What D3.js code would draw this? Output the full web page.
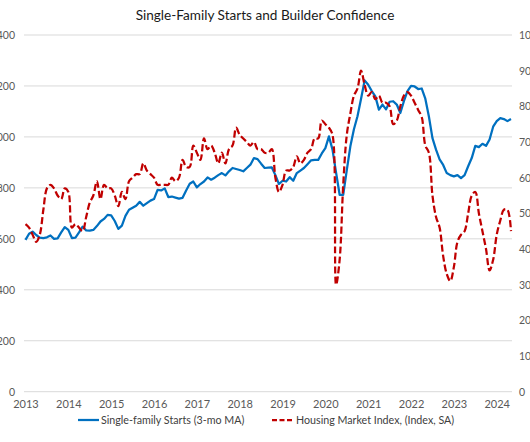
<!DOCTYPE html>
<html>
<head>
<meta charset="utf-8">
<script src="https://cdn.jsdelivr.net/npm/d3@7"></script>
<style>
  html, body { margin: 0; padding: 0; background: #fff; }
  svg { display: block; font-family: Lato, "Open Sans", sans-serif; }
</style>
</head>
<body>
<svg id="chart" width="530" height="442"></svg>
<script>
// ---- Data ----
const yearLabels = ["2013","2014","2015","2016","2017","2018","2019","2020","2021","2022","2023","2024"];
const leftTicks = [0, 200, 400, 600, 800, 1000, 1200, 1400];
const rightTicks = [0, 10, 20, 30, 40, 50, 60, 70, 80, 90, 100];

// Single-family starts, 3-month moving average (thousands, SAAR), Jan 2013 - May 2024
const starts = [
  596,620,628,615,605,603,606,613,600,602,625,646,
  635,603,605,625,648,633,632,635,650,668,678,694,
  692,670,639,652,690,714,722,730,745,730,740,750,
  756,792,790,798,764,766,762,758,761,790,816,825,
  802,815,825,841,832,840,850,858,849,865,878,874,
  870,865,878,891,917,913,895,878,879,880,850,815,
  828,825,842,828,858,868,878,893,908,910,910,935,
  956,1002,950,860,773,773,870,963,1030,1081,1150,1222,
  1205,1180,1159,1107,1127,1108,1138,1140,1127,1094,1140,1180,
  1200,1198,1188,1190,1150,1080,995,950,912,890,858,850,
  845,850,838,850,885,917,965,960,973,965,990,1040,
  1062,1074,1070,1062,1070
];

// NAHB/Wells Fargo Housing Market Index (SA), Jan 2013 - May 2024
const hmi = [
  47,46,44,42,44,51,57,58,57,55,54,57,
  56,46,47,46,45,49,53,55,59,54,58,57,
  57,55,52,56,54,59,60,61,61,64,62,61,
  60,58,58,58,58,60,59,60,65,63,63,69,
  67,65,71,68,69,67,64,67,64,68,69,74,
  72,71,70,69,70,68,68,67,67,68,60,56,
  58,62,62,63,66,64,65,67,68,71,71,76,
  75,74,72,30,37,58,72,78,83,85,90,86,
  83,84,82,83,81,81,80,75,76,80,83,84,
  83,81,79,77,69,67,55,49,46,38,33,31,
  35,42,44,45,50,55,56,50,45,40,34,37,
  44,48,51,51,45
];

const seriesNames = ["Single-family Starts (3-mo MA)", "Housing Market Index, (Index, SA)"];
const title = "Single-Family Starts and Builder Confidence";

// ---- Layout ----
const svg = d3.select("#chart");
const plotLeft = 25.5, plotRight = 511, plotTop = 35, plotBottom = 391.7;

const x = d3.scaleLinear().domain([0, starts.length - 1]).range([plotLeft, plotRight]);
const yL = d3.scaleLinear().domain([0, 1400]).range([plotBottom, plotTop]);
const yR = d3.scaleLinear().domain([0, 100]).range([plotBottom, plotTop]);

const fmt = d3.format(",");

// gridlines
svg.append("g")
  .selectAll("line")
  .data(leftTicks)
  .join("line")
  .attr("x1", 24).attr("x2", 512)
  .attr("y1", d => yL(d)).attr("y2", d => yL(d))
  .attr("stroke", "#d9d9d9").attr("stroke-width", 1);

// left axis labels (the chart image is cropped at its left edge, as in the reference)
const leftAxis = d3.axisLeft(yL).tickValues(leftTicks).tickFormat(fmt).tickSize(0).tickPadding(0);
const gL = svg.append("g").attr("transform", "translate(15,0)").call(leftAxis);
gL.select(".domain").remove();
gL.selectAll("text").attr("fill", "#595959").style("font-size", "10.5px").style("font-family", "Lato, sans-serif");

// right axis labels (cropped at the right edge)
const rightAxis = d3.axisRight(yR).tickValues(rightTicks).tickSize(0).tickPadding(0);
const gR = svg.append("g").attr("transform", "translate(519,0)").call(rightAxis);
gR.select(".domain").remove();
gR.selectAll("text").attr("fill", "#595959").style("font-size", "10.5px").style("font-family", "Lato, sans-serif");

// x axis year labels at January of each year
const xAxis = d3.axisBottom(x)
  .tickValues(yearLabels.map((y, i) => i * 12))
  .tickFormat((d, i) => yearLabels[i])
  .tickSize(0).tickPadding(0);
const gX = svg.append("g").attr("transform", "translate(0,400)").call(xAxis);
gX.select(".domain").remove();
gX.selectAll("text").attr("fill", "#595959").style("font-size", "11px").style("font-family", "Lato, sans-serif");

// lines
const lineStarts = d3.line().x((d, i) => x(i)).y(d => yL(d));
const lineHmi = d3.line().x((d, i) => x(i)).y(d => yR(d)).curve(d3.curveCatmullRom.alpha(0.5));

svg.append("path")
  .datum(starts)
  .attr("d", lineStarts)
  .attr("fill", "none")
  .attr("stroke", "#0070C0")
  .attr("stroke-width", 2.25)
  .attr("stroke-linejoin", "round");

svg.append("path")
  .datum(hmi)
  .attr("d", lineHmi)
  .attr("fill", "none")
  .attr("stroke", "#C00000")
  .attr("stroke-width", 2.25)
  .attr("stroke-dasharray", "7,3");

// title
svg.append("text")
  .attr("x", 265).attr("y", 20)
  .attr("text-anchor", "middle")
  .attr("fill", "#1a1a1a")
  .style("font-size", "13.6px")
  .text(title);

// legend
const legend = svg.append("g").attr("transform", "translate(0,424)");
legend.append("line").attr("x1", 78).attr("x2", 99).attr("y1", -4).attr("y2", -4)
  .attr("stroke", "#0070C0").attr("stroke-width", 2.25);
legend.append("text").attr("x", 101).attr("y", 0).attr("fill", "#404040")
  .style("font-size", "10.7px").text(seriesNames[0]);
legend.append("line").attr("x1", 272).attr("x2", 292).attr("y1", -4).attr("y2", -4)
  .attr("stroke", "#C00000").attr("stroke-width", 2.25).attr("stroke-dasharray", "5,2.5");
legend.append("text").attr("x", 296).attr("y", 0).attr("fill", "#404040")
  .style("font-size", "10.7px").text(seriesNames[1]);
</script>
</body>
</html>
